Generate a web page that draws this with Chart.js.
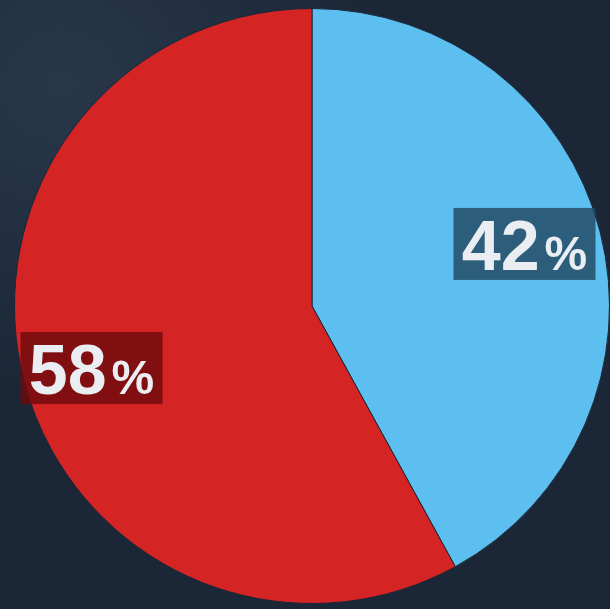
<!DOCTYPE html>
<html>
<head>
<meta charset="utf-8">
<script src="https://cdn.jsdelivr.net/npm/chart.js@4/dist/chart.umd.min.js"></script>
<style>
  html, body { margin: 0; padding: 0; }
  body {
    width: 610px; height: 609px; overflow: hidden;
    background: #1b2737;
    background-image: radial-gradient(ellipse at 10% 14%, rgba(90, 120, 150, 0.2), rgba(27, 39, 55, 0) 42%);
  }
  #wrap { position: relative; width: 610px; height: 609px; }
</style>
</head>
<body>
<div id="wrap"><canvas id="pieChart" width="610" height="609"></canvas></div>
<script>
(function () {
  "use strict";

  var categories = ["A", "B"];
  var values = [42, 58];
  var numberLabels = ["42", "58"];
  var sliceColors = ["#5cbfef", "#d52424"];
  var boxColors = ["rgba(34, 72, 98, 0.82)", "rgba(110, 10, 12, 0.82)"];

  var labelBoxes = {
    id: "labelBoxes",
    afterDatasetsDraw: function (chart) {
      var ctx = chart.ctx;
      var meta = chart.getDatasetMeta(0);
      meta.data.forEach(function (arc, i) {
        var p = arc.getProps(["x", "y", "startAngle", "endAngle", "outerRadius"], true);
        // labels sit slightly counter-clockwise of the slice middle
        var mid = (p.startAngle + p.endAngle) / 2 - 1.6 * Math.PI / 180;
        var r = p.outerRadius * 0.757;
        var cx = p.x + Math.cos(mid) * r - 4;
        var cy = p.y + Math.sin(mid) * r;
        var w = 142, h = 72;
        ctx.save();
        ctx.fillStyle = boxColors[i];
        ctx.fillRect(cx - w / 2, cy - h / 2, w, h);

        var numFont = "bold 70px 'Liberation Sans', Arial, sans-serif";
        var pctFont = "bold 48px 'Liberation Sans', Arial, sans-serif";
        ctx.font = numFont;
        var nw = ctx.measureText(numberLabels[i]).width;
        ctx.font = pctFont;
        var pw = ctx.measureText("%").width;
        var gap = 5;
        var total = nw + gap + pw;
        var x0 = cx - total / 2;
        var baseline = cy + 26;
        ctx.fillStyle = "#eaeef2";
        ctx.textBaseline = "alphabetic";
        ctx.textAlign = "left";
        ctx.font = numFont;
        ctx.fillText(numberLabels[i], x0, baseline);
        ctx.font = pctFont;
        ctx.fillText("%", x0 + nw + gap, baseline);
        ctx.restore();
      });
    }
  };

  new Chart(document.getElementById("pieChart").getContext("2d"), {
    type: "pie",
    data: {
      labels: categories,
      datasets: [
        {
          data: values,
          backgroundColor: sliceColors,
          borderColor: "#1b2737",
          borderWidth: 1
        }
      ]
    },
    options: {
      responsive: false,
      animation: false,
      layout: {
        padding: { top: 8, right: 0, bottom: 5, left: 14 }
      },
      plugins: {
        legend: { display: false },
        tooltip: { enabled: false }
      }
    },
    plugins: [labelBoxes]
  });
})();
</script>
</body>
</html>
